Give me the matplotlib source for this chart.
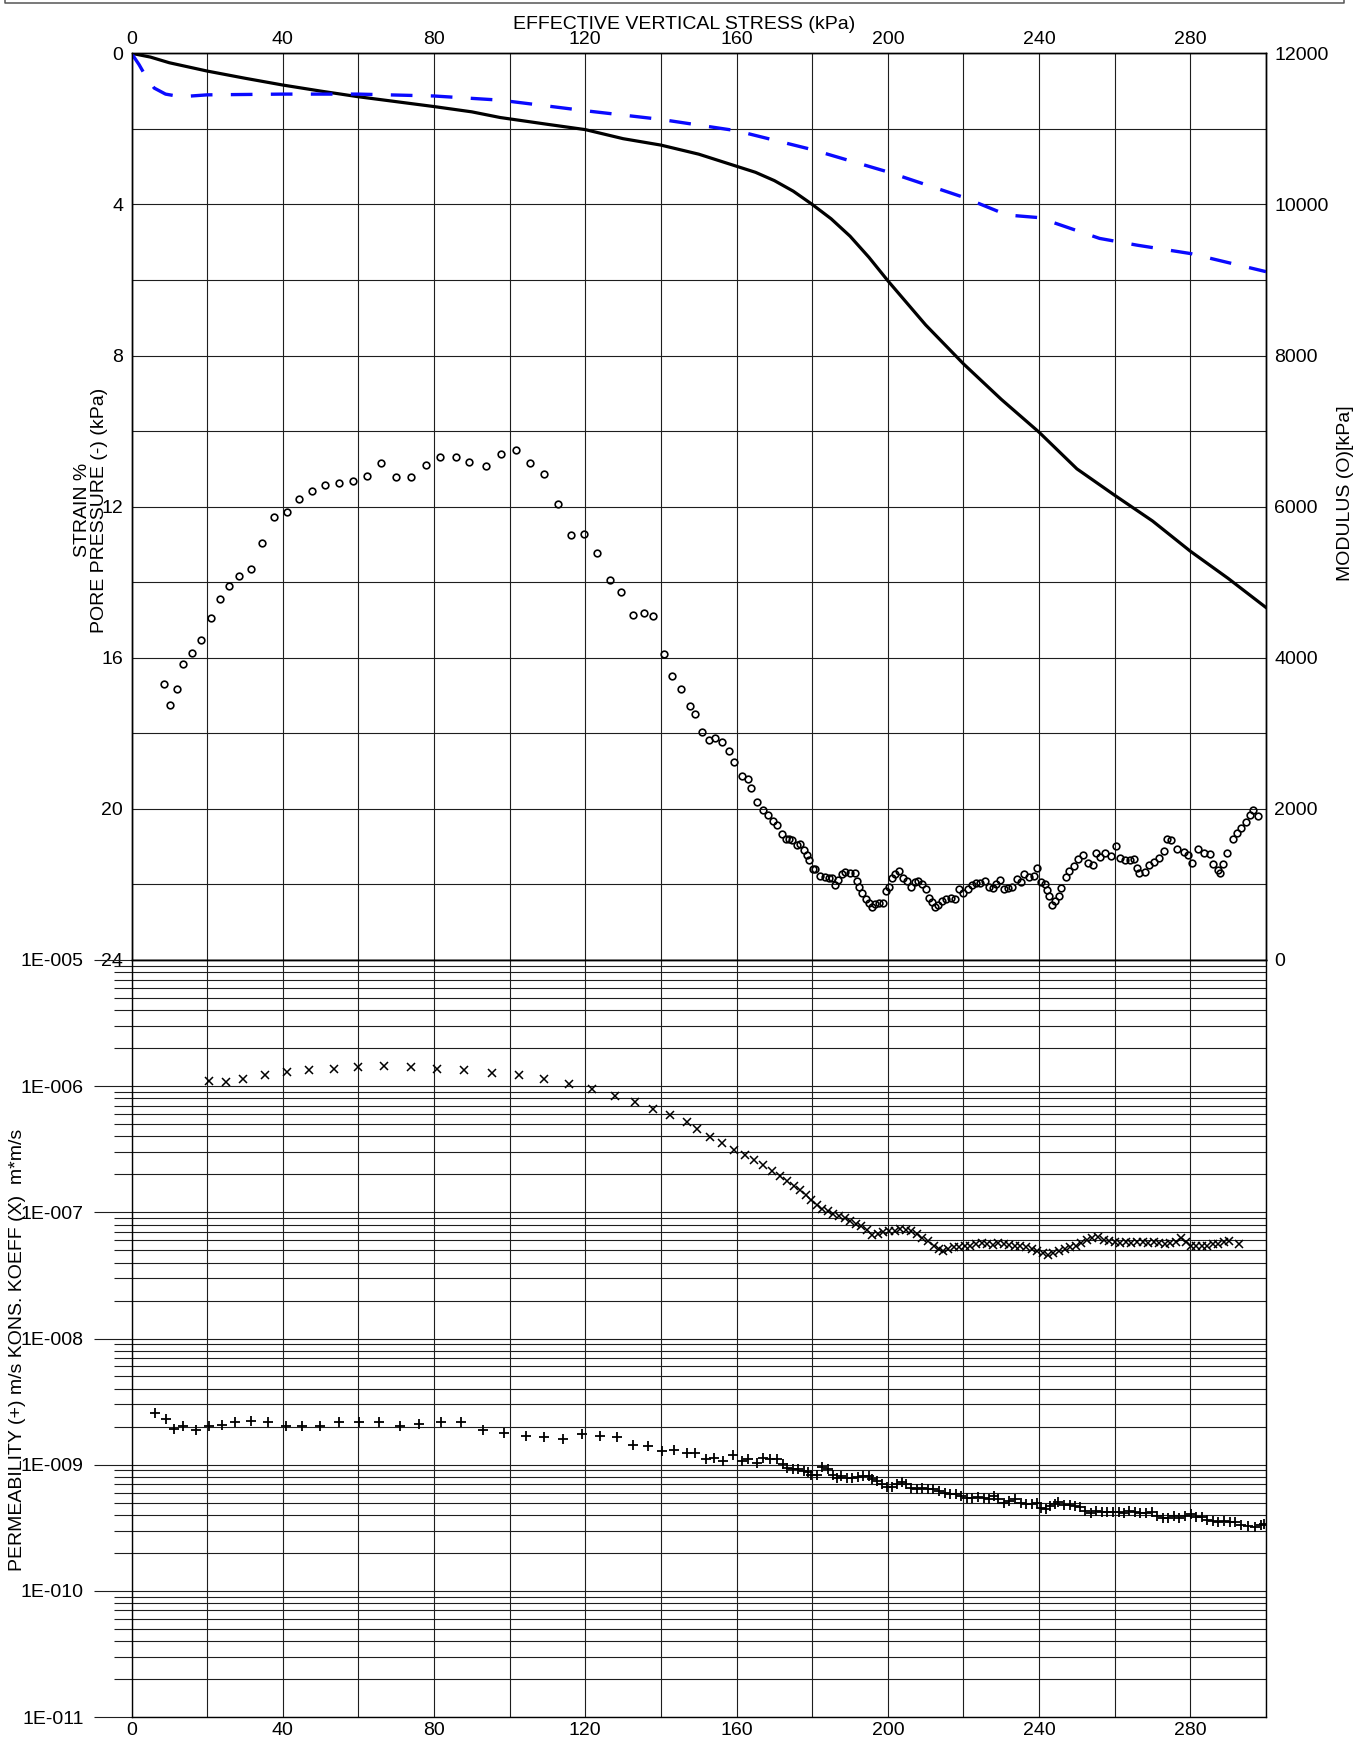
import numpy as np
import matplotlib.pyplot as plt
from matplotlib.lines import Line2D
from matplotlib.ticker import FixedLocator, NullFormatter

plt.rcParams['font.family'] = ['Liberation Sans', 'DejaVu Sans']
plt.rcParams['font.size'] = 14

# ---------------- data ----------------
# strain curve (solid black)
strain_stress = [0, 5, 10, 20, 30, 40, 50, 60, 70, 80, 90, 97.5, 110, 120, 130, 140, 150,
                 160, 165, 170, 175, 180, 185, 190, 195, 200, 210, 220, 230, 240, 250, 260,
                 270, 280, 290, 300]
strain_pct = [0, 0.1, 0.25, 0.47, 0.66, 0.84, 1.0, 1.15, 1.28, 1.41, 1.55, 1.70, 1.88, 2.02,
              2.26, 2.43, 2.67, 2.99, 3.15, 3.37, 3.65, 4.0, 4.38, 4.84, 5.4, 6.02, 7.19,
              8.22, 9.16, 10.03, 11.0, 11.7, 12.38, 13.18, 13.9, 14.67]

# pore pressure (blue dashed)
pp_stress = [0, 2, 4, 6, 9, 13, 20, 40, 60, 80, 97.5, 120, 140, 160, 180, 200, 220, 231.5,
             240, 256, 266, 280, 300]
pp_value = [0, 0.3, 0.65, 0.92, 1.08, 1.15, 1.1, 1.08, 1.08, 1.13, 1.24, 1.52, 1.75, 2.05,
            2.55, 3.14, 3.81, 4.28, 4.35, 4.9, 5.08, 5.3, 5.78]

# modulus (open circles)
mod_stress = [8.6, 10.1, 12.0, 13.6, 15.9, 18.4, 20.9, 23.4, 25.9, 28.5, 31.5, 34.6, 37.7,
              41.2, 44.4, 47.8, 51.3, 54.8, 58.5, 62.3, 66.1, 70.0, 73.8, 77.8, 81.7, 85.7,
              89.3, 93.8, 97.7, 101.6, 105.4, 109.2, 112.7, 116.3, 119.7, 123.2, 126.4,
              129.4, 132.5, 135.4, 137.9, 140.8, 143.0, 145.3, 147.7, 149.0, 150.9, 152.6,
              154.2, 156.1, 158.0, 159.4, 161.4, 162.9, 163.8,
              165.5, 166.9, 168.2, 169.6, 170.6, 172.1, 173.0, 173.8, 174.7, 176.0, 176.8,
              177.7, 178.5, 179.1, 180.1, 180.8, 182.1, 183.3, 184.4, 185.2, 186.0, 186.9,
              187.8, 188.8, 189.9, 191.4, 191.9, 192.5, 193.3, 194.1, 194.9, 195.8, 196.6,
              197.7, 198.8, 199.4, 200.3, 201.1, 201.9, 203.0, 203.9, 205.0, 206.1, 207.2,
              208.1, 209.1, 210.0, 210.8, 211.6, 212.4, 213.3, 214.4, 215.5, 216.7, 217.8,
              218.9, 220.0, 221.1, 222.2, 223.3, 224.4, 225.8, 226.7, 227.8, 228.7, 229.7,
              230.8, 231.9, 232.8, 234.1, 235.2, 236.1, 237.2, 238.6, 239.5, 240.6, 241.5,
              242.0, 242.6, 243.4, 244.3, 245.3, 245.9, 247.0, 248.0, 249.3, 250.4, 251.5,
              252.8, 254.2, 255.1, 256.2, 257.5, 259.0, 260.4, 261.5, 262.8, 264.0, 265.1,
              265.9, 266.4, 267.9, 269.0, 270.4, 271.7, 272.9, 273.7, 274.9, 276.4, 278.4,
              279.3, 280.4, 282.0, 283.5, 285.1, 286.0, 287.2, 287.9, 288.5, 289.8, 291.3,
              292.4, 293.3, 294.6, 295.7, 296.5, 298.0]
mod_value = [3648, 3379, 3586, 3917, 4062, 4239, 4521, 4777, 4949, 5077, 5174, 5513, 5866,
             5928, 6100, 6206, 6290, 6307, 6334, 6409, 6577, 6391, 6391, 6550, 6660, 6660,
             6590, 6541, 6700, 6749, 6581, 6435, 6034, 5619, 5641, 5380, 5035,
             4868, 4572, 4590, 4559, 4056, 3760, 3584, 3368, 3262, 3015, 2918,
             2940, 2887, 2764, 2618, 2433, 2389, 2274,
             2088, 1991, 1925, 1837, 1789, 1670, 1604, 1604, 1586, 1520, 1537,
             1454, 1396, 1322, 1207, 1198, 1110, 1093, 1088, 1079, 987, 1053,
             1132, 1167, 1150, 1145, 1044, 969, 881, 811, 758, 700, 744,
             758, 758, 912, 965, 1088, 1132, 1176, 1088, 1044, 969, 1031,
             1044, 1000, 943, 824, 767, 705, 722, 780, 811, 824, 802,
             934, 890, 943, 987, 1013, 1022, 1044, 969, 956, 1000, 1053,
             943, 956, 969, 1066, 1031, 1132, 1101, 1110, 1220, 1031, 1000,
             925, 846, 722, 780, 846, 956, 1101, 1176, 1242, 1339, 1396,
             1286, 1251, 1419, 1366, 1419, 1374, 1507, 1352, 1330, 1317, 1339,
             1220, 1145, 1163, 1251, 1295, 1352, 1441, 1595, 1586, 1471, 1432,
             1396, 1286, 1471, 1419, 1405, 1264, 1189, 1145, 1264, 1410, 1604,
             1683, 1749, 1824, 1925, 1991, 1903]

# consolidation coefficient (x), log10 of m*m/s
cv_stress = [20.4, 24.9, 29.5, 35.2, 41.1, 46.9, 53.5, 60.0, 66.9, 73.8, 80.9, 87.8, 95.4,
             102.5, 109.1, 115.7, 121.8, 127.8, 133.2, 138.0, 142.4, 146.9, 149.6, 153.0,
             156.1, 159.4, 162.2, 164.6, 167.0, 169.5, 171.4, 173.4, 175.3, 176.8, 178.3,
             179.8, 181.2, 182.7, 184.2, 185.6, 187.1, 188.6, 190.0, 191.5, 193.0, 194.4,
             195.9, 197.4, 198.8, 200.3, 201.8, 203.2, 204.7, 206.2, 207.6, 209.1, 210.6,
             212.1, 213.5, 214.5, 216.0, 217.4, 218.9, 220.4, 221.8, 223.3, 224.8, 226.2,
             227.7, 229.2, 230.6, 232.1, 233.6, 235.0, 236.5, 238.0, 239.4, 240.9, 242.4,
             243.8, 245.3, 246.8, 248.3, 249.7, 251.2, 252.7, 254.1, 255.6, 257.1, 258.5,
             260.0, 261.5, 262.9, 264.4, 265.9, 267.4, 268.8, 270.3, 271.8, 273.2, 274.7,
             276.2, 277.4, 278.8, 280.1, 281.5, 283.0, 284.5, 286.0, 287.4, 288.9, 290.3,
             292.8]
cv_log = [-5.963, -5.966, -5.942, -5.910, -5.889, -5.873, -5.860, -5.847, -5.844, -5.852,
          -5.860, -5.873, -5.894, -5.913, -5.947, -5.979, -6.021, -6.074, -6.124, -6.179,
          -6.230, -6.282, -6.343, -6.399, -6.449, -6.506, -6.546, -6.586, -6.625, -6.670,
          -6.710, -6.755, -6.794, -6.821, -6.860, -6.900, -6.942, -6.974, -6.987, -7.013,
          -7.026, -7.048, -7.066, -7.092, -7.111, -7.137, -7.177, -7.172, -7.158, -7.145,
          -7.145, -7.132, -7.137, -7.145, -7.172, -7.206, -7.224, -7.264, -7.290, -7.304,
          -7.290, -7.277, -7.272, -7.264, -7.264, -7.251, -7.243, -7.251, -7.256, -7.243,
          -7.251, -7.256, -7.264, -7.269, -7.277, -7.290, -7.304, -7.322, -7.338, -7.322,
          -7.304, -7.290, -7.277, -7.264, -7.243, -7.216, -7.206, -7.198, -7.216, -7.224,
          -7.238, -7.245, -7.238, -7.243, -7.232, -7.238, -7.243, -7.238, -7.243, -7.251,
          -7.245, -7.238, -7.206, -7.232, -7.264, -7.269, -7.269, -7.269, -7.251, -7.251,
          -7.232, -7.224, -7.251]

# permeability (+), log10 of m/s
k_stress = [6.3, 9.0, 11.3, 13.7, 17.0, 20.5, 24.0, 27.5, 31.5, 36.2, 40.8, 45.2, 49.9,
            55.0, 60.1, 65.4, 71.0, 76.1, 81.8, 87.1, 93.0, 98.6, 104.2, 109.2, 114.2,
            119.1, 123.9, 128.3, 132.7, 136.6, 140.3, 143.5, 146.9, 149.1, 151.9, 154.0,
            156.5, 159.0, 161.4, 163.1, 165.3, 167.0, 168.8, 170.7, 172.4, 173.4, 174.9,
            176.3, 177.8, 178.8, 179.8, 181.2, 182.5, 184.2, 185.6, 186.6, 187.6, 189.1,
            190.5, 192.0, 193.5, 194.9, 195.9, 197.2, 198.4, 199.8, 201.1, 202.3, 203.7,
            204.7, 206.2, 207.6, 209.1, 210.6, 211.9, 213.5, 215.0, 216.5, 218.0, 219.4,
            220.9, 222.3, 223.8, 225.3, 226.7, 228.2, 229.2, 230.6, 232.1, 233.6, 235.1,
            236.5, 238.0, 239.5, 240.6, 241.9, 242.9, 244.1, 245.1, 246.5, 248.1, 249.4,
            250.7, 252.2, 253.6, 255.1, 256.6, 258.0, 259.5, 261.0, 262.4, 263.9, 265.4,
            266.8, 268.3, 269.8, 271.3, 272.7, 274.2, 275.7, 277.1, 278.6, 280.1, 281.5,
            283.0, 284.5, 285.9, 287.4, 288.9, 290.4, 291.9, 293.3, 295.2, 297.2, 298.6,
            299.6]
k_log = [-8.592, -8.640, -8.714, -8.695, -8.729, -8.690, -8.687, -8.663, -8.655, -8.663,
         -8.690, -8.690, -8.695, -8.658, -8.663, -8.663, -8.695, -8.674, -8.658, -8.663,
         -8.727, -8.748, -8.774, -8.782, -8.800, -8.756, -8.774, -8.780, -8.846, -8.853,
         -8.893, -8.885, -8.906, -8.906, -8.953, -8.948, -8.970, -8.927, -8.972, -8.954,
         -8.985, -8.951, -8.954, -8.954, -8.998, -9.025, -9.038, -9.038, -9.051, -9.059,
         -9.078, -9.078, -9.017, -9.038, -9.078, -9.104, -9.091, -9.104, -9.104, -9.096,
         -9.086, -9.091, -9.112, -9.130, -9.157, -9.175, -9.175, -9.157, -9.138, -9.157,
         -9.183, -9.191, -9.183, -9.191, -9.196, -9.210, -9.223, -9.236, -9.236, -9.249,
         -9.262, -9.262, -9.254, -9.262, -9.275, -9.249, -9.275, -9.302, -9.289, -9.275,
         -9.307, -9.315, -9.315, -9.307, -9.342, -9.355, -9.328, -9.315, -9.297, -9.323,
         -9.323, -9.328, -9.334, -9.368, -9.381, -9.368, -9.376, -9.376, -9.376, -9.376,
         -9.381, -9.368, -9.376, -9.381, -9.386, -9.376, -9.408, -9.421, -9.421, -9.408,
         -9.421, -9.408, -9.394, -9.413, -9.413, -9.439, -9.447, -9.455, -9.447, -9.455,
         -9.455, -9.481, -9.486, -9.492, -9.481, -9.473]

x_major = [0, 40, 80, 120, 160, 200, 240, 280]
x_minor = [20, 60, 100, 140, 180, 220, 260, 300]
strain_ticks = [0, 4, 8, 12, 16, 20, 24]
strain_minor = [2, 6, 10, 14, 18, 22]
mod_ticks = [0, 2000, 4000, 6000, 8000, 10000, 12000]
log_ticks = [1e-11, 1e-10, 1e-9, 1e-8, 1e-7, 1e-6, 1e-5]
log_labels = ['1E-011', '1E-010', '1E-009', '1E-008', '1E-007', '1E-006', '1E-005']

# ---------------- figure ----------------
W_PX, H_PX = 1362, 1738
fig = plt.figure(figsize=(W_PX / 100, H_PX / 100), dpi=100)

left, right = 131.5, 1266
top, mid, bot = 53.3, 960, 1717
ax1 = fig.add_axes([left / W_PX, 1 - mid / H_PX, (right - left) / W_PX, (mid - top) / H_PX])
ax2 = fig.add_axes([left / W_PX, 1 - bot / H_PX, (right - left) / W_PX, (bot - mid) / H_PX])

grid_kw = dict(color='#1e1e1e', linewidth=0.8)

# upper panel: strain + pore pressure
ax1.set_xlim(0, 300)
ax1.set_ylim(24, 0)
ax1.set_axisbelow(True)
ax1.plot(strain_stress, strain_pct, color='black', linewidth=2.3, zorder=3)
ax1.plot(pp_stress, pp_value, color='#0a0aff', linewidth=2.4,
         linestyle=(0, (6.5, 5.5)), zorder=3)
ax1.xaxis.tick_top()
ax1.xaxis.set_major_locator(FixedLocator(x_major))
ax1.xaxis.set_minor_locator(FixedLocator(x_minor))
ax1.yaxis.set_major_locator(FixedLocator(strain_ticks))
ax1.yaxis.set_minor_locator(FixedLocator(strain_minor))
ax1.grid(True, which='both', **grid_kw)
ax1.tick_params(axis='x', which='both', length=0, pad=3.6)
ax1.tick_params(axis='y', which='both', length=0, pad=6)

# modulus on the right
axm = ax1.twinx()
axm.set_ylim(0, 12000)
axm.set_yticks(mod_ticks)
axm.tick_params(axis='y', length=0, pad=6)
axm.plot(mod_stress, mod_value, 'o', markersize=4.8, markerfacecolor='none',
         markeredgecolor='black', markeredgewidth=1.2, zorder=4)

# lower panel: permeability + consolidation coefficient
ax2.set_xlim(0, 300)
ax2.set_yscale('log')
ax2.set_ylim(1e-11, 1e-5)
ax2.set_axisbelow(True)
ax2.plot(cv_stress, 10 ** np.array(cv_log), 'x', color='black', markersize=6.3,
         markeredgewidth=1.1)
ax2.plot(k_stress, 10 ** np.array(k_log), '+', color='black', markersize=6.8,
         markeredgewidth=1.3)
ax2.xaxis.set_major_locator(FixedLocator(x_major))
ax2.xaxis.set_minor_locator(FixedLocator(x_minor))
ax2.yaxis.set_major_locator(FixedLocator(log_ticks))
ax2.set_yticklabels(log_labels)
minor_log = [m * 10.0 ** e for e in range(-11, -5) for m in range(2, 10)]
ax2.yaxis.set_minor_locator(FixedLocator(minor_log))
ax2.yaxis.set_minor_formatter(NullFormatter())
ax2.grid(True, which='both', **grid_kw)
ax2.tick_params(axis='x', which='both', length=0, pad=3.4)
ax2.tick_params(axis='y', which='major', length=27.5, width=0.8, color='#1e1e1e', pad=7)
ax2.tick_params(axis='y', which='minor', length=13.1, width=0.8, color='#1e1e1e')

for a in (ax1, axm, ax2):
    for s in a.spines.values():
        s.set_linewidth(1.0)

# titles / axis labels
fig.text(684 / W_PX, 1 - 24.5 / H_PX, 'EFFECTIVE VERTICAL STRESS (kPa)',
         ha='center', va='center')
fig.text(91 / W_PX, 1 - 510 / H_PX, 'STRAIN %\nPORE PRESSURE (-) (kPa)', rotation=90,
         ha='center', va='center', multialignment='center', linespacing=1.05)
fig.text(1346 / W_PX, 1 - 493 / H_PX, 'MODULUS (O)[kPa]', rotation=90,
         ha='center', va='center')
fig.text(18 / W_PX, 1 - 1350 / H_PX, 'PERMEABILITY (+) m/s KONS. KOEFF (X)  m*m/s',
         rotation=90, ha='center', va='center')

# header frame edge at the very top
fx = [5 / W_PX, 5 / W_PX, 1344 / W_PX, 1344 / W_PX]
fy = [1.0, 1 - 3 / H_PX, 1 - 3 / H_PX, 1.0]
fig.add_artist(Line2D(fx, fy, transform=fig.transFigure, color='#555555', linewidth=1.1))

fig.savefig('out.png', dpi=100)
